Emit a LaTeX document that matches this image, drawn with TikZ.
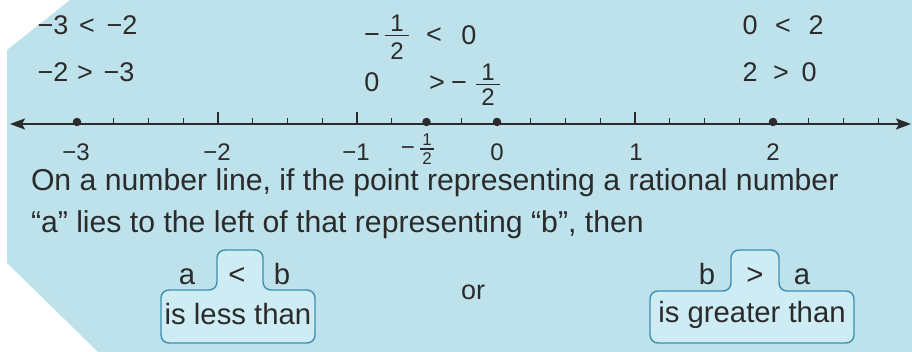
\documentclass[tikz,border=0pt]{standalone}
\usepackage{fontspec}
\setmainfont{Liberation Sans}
\usetikzlibrary{arrows.meta}
\definecolor{bg}{HTML}{BEE2EB}
\definecolor{boxfill}{HTML}{CDECF4}
\definecolor{boxline}{HTML}{3D8DB0}
\definecolor{ink}{HTML}{2B2B2B}
\begin{document}
\begin{tikzpicture}[x=1pt,y=-1pt,
  every node/.style={inner sep=0pt, outer sep=0pt, text=ink},
  rel/.style={anchor=base, font=\fontsize{27}{30}\selectfont},
  fracdig/.style={anchor=base, font=\fontsize{24}{28}\selectfont},
  axlab/.style={anchor=base, font=\fontsize{24}{28}\selectfont},
  axfrac/.style={anchor=base, font=\fontsize{17}{20}\selectfont},
  para/.style={anchor=base west, font=\fontsize{30.2}{36}\selectfont},
  boxtxt/.style={anchor=base, font=\fontsize{29.3}{35}\selectfont},
  ortxt/.style={anchor=base, font=\fontsize{27}{32}\selectfont},
  fracbar/.style={draw=ink, line width=1.4pt},
  tbox/.style={draw=boxline, fill=boxfill, line width=1.4pt, rounded corners=8pt},
  smalltick/.style={draw=ink, line width=1.1pt},
  bigtick/.style={draw=ink, line width=1.5pt},
  dot/.style={circle, fill=ink, minimum size=8.5pt, inner sep=0pt},
  axisline/.style={draw=ink, line width=2pt,
    {Stealth[length=15pt,width=11pt,inset=3pt]}-{Stealth[length=15pt,width=11pt,inset=3pt]}},
]
\useasboundingbox (0,0) rectangle (912,352);
\fill[bg] (7,50) -- (70,0) -- (912,0) -- (912,352) -- (98,352) -- (7,263) -- cycle;

% top relations, left
\node[rel] (r1a) at (53,35) {−3};
\node[rel] (r1b) at (87,35) {<};
\node[rel] (r1c) at (122,35) {−2};
\node[rel] (r2a) at (53,82) {−2};
\node[rel] (r2b) at (85,82) {>};
\node[rel] (r2c) at (119,82) {−3};
% middle
\node[rel] (m1a) at (372,44) {−};
\node[fracdig] (m1n) at (397,32) {1};
\node[fracdig] (m1d) at (397,60) {2};
\draw[fracbar] (385,35.5) -- (409,35.5);
\node[rel] (m1b) at (434,44) {<};
\node[rel] (m1c) at (469,45) {0};
\node[rel] (m2a) at (372,92) {0};
\node[rel] (m2b) at (437,92) {>};
\node[rel] (m2c) at (459,92) {−};
\node[fracdig] (m2n) at (488,81) {1};
\node[fracdig] (m2d) at (488,106) {2};
\draw[fracbar] (476,84.5) -- (500,84.5);
% right
\node[rel] (q1a) at (750,35) {0};
\node[rel] (q1b) at (783,35) {<};
\node[rel] (q1c) at (816,35) {2};
\node[rel] (q2a) at (750,82) {2};
\node[rel] (q2b) at (781,82) {>};
\node[rel] (q2c) at (809,82) {0};

% number line
\coordinate (L) at (10,124);
\coordinate (R) at (911,124);
\draw[axisline] (L) -- (R);
\foreach \k in {1,...,23}
  \draw[smalltick] ({496+139*(-3+0.25*\k)},124) -- ++(0,-6);
\foreach \v in {-2,-1,1}
  \draw[bigtick] ({496+139*\v},124) -- ++(0,-12);
\node[dot] (dm3) at (77,122) {};
\node[dot] (dmh) at (426.5,122) {};
\node[dot] (d0) at (497,122) {};
\node[dot] (d2) at (773,122) {};

% axis labels
\node[axlab] (lm3) at (76,161) {−3};
\node[axlab] (lm2) at (217,161) {−2};
\node[axlab] (lm1) at (356,161) {−1};
\node[axlab] (lmh) at (408,156) {−};
\node[axfrac] (lhn) at (427,146) {1};
\node[axfrac] (lhd) at (427,165) {2};
\draw[fracbar, line width=1.1pt] (420,149) -- (434,149);
\node[axlab] (l0) at (497,161) {0};
\node[axlab] (l1) at (636,161) {1};
\node[axlab] (l2) at (773,161) {2};

% paragraph
\node[para] (p1) at (31,191) {On a number line, if the point representing a rational number};
\node[para] (p2) at (31,233) {“a” lies to the left of that representing “b”, then};

% boxes
\draw[tbox] (238,343) -- (161,343) -- (161,290) -- (217,290) -- (217,250) -- (263,250) -- (263,290) -- (315,290) -- (315,343) -- cycle;
\draw[tbox] (752,343) -- (650,343) -- (650,291) -- (731,291) -- (731,250) -- (779,250) -- (779,291) -- (854,291) -- (854,343) -- cycle;

\node[boxtxt] (ba1) at (187,285) {a};
\node[boxtxt] (blt) at (237,285) {<};
\node[boxtxt] (bb1) at (282,285) {b};
\node[boxtxt] (lt) at (238,324) {is less than};
\node[ortxt] (or) at (473,300) {or};
\node[boxtxt] (bb2) at (707,285) {b};
\node[boxtxt] (bgt) at (755,285) {>};
\node[boxtxt] (ba2) at (802,285) {a};
\node[boxtxt] (gt) at (752,323) {is greater than};
\end{tikzpicture}
\end{document}
